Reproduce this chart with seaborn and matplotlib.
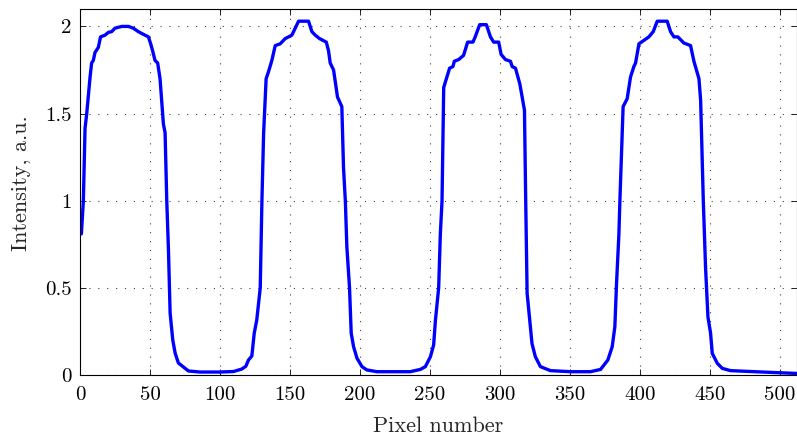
import matplotlib
matplotlib.use("Agg")
import matplotlib.pyplot as plt
import seaborn as sns
import pandas as pd

# Detector line profile: intensity vs pixel index
pixel = [1, 2.4, 3.6, 4.8, 7.2, 8.3, 9.5, 10.7, 13.1, 14.7, 17.9, 20.3, 22.6, 25, 29.8, 34.6,
         38.1, 41.7, 44, 46.5, 48.9, 50.5, 51.9, 53.6, 55.5, 57.2, 59.6, 60.8, 62, 63.2, 63.9,
         64.4, 66.3, 68, 70.3, 73.9, 77.5, 85.8, 100, 109.7, 115.6, 118.5, 120.4, 122.8, 124.5,
         126.3, 128.8,
         130, 131.2, 133, 134.7, 137.1, 139.5, 143, 146.6, 149, 151.4, 153.8, 156.2, 163.3,
         165.7, 168.1, 171.2, 176, 177.6, 178.8, 181.2, 184, 187.1, 188.3, 189.6, 190.7, 192.6,
         193.8, 195.5, 197.9, 201.5, 205, 212.2, 236, 243.2, 246.8, 250.4, 252.7, 254, 256.3,
         257.5, 258.7,
         259.9, 262.2, 264.1, 266.5, 267.5, 270.6, 274.1, 277, 280.8, 282.4, 285.6, 290.4,
         293.3, 295.6, 299.2, 300.9, 304, 307.6, 308.8, 311.2, 314.3, 317.6, 318.5, 319.5,
         320.7, 323, 325.4, 329, 336.2, 350.5, 364.8, 372, 377.2, 380.3, 382.2, 383.4, 385.1,
         385.8,
         388.1, 391, 393.4, 395.8, 397, 399.4, 403, 406.5, 409.6, 412.5, 419.6, 422, 424.4,
         427.2, 431.5, 436.3, 438.7, 442.3, 443.5, 445.4, 447, 448.7, 450.6, 451.8, 453, 455.4,
         459, 464.9, 481.6, 491.1, 499.5, 512]

intensity = [0.81, 1.0, 1.415, 1.50, 1.71, 1.79, 1.805, 1.85, 1.88, 1.94, 1.95, 1.966, 1.97,
             1.99, 2.0, 2.0, 1.99, 1.97, 1.96, 1.95, 1.94, 1.90, 1.86, 1.805, 1.79, 1.70, 1.44,
             1.39, 1.0, 0.72, 0.50, 0.355, 0.20, 0.125, 0.069, 0.046, 0.023, 0.017, 0.017, 0.02,
             0.034, 0.05, 0.086, 0.109, 0.24, 0.315, 0.50,
             1.0, 1.385, 1.70, 1.74, 1.805, 1.89, 1.90, 1.93, 1.94, 1.95, 1.99, 2.03, 2.03, 1.97,
             1.95, 1.93, 1.91, 1.86, 1.79, 1.75, 1.595, 1.54, 1.19, 1.0, 0.735, 0.50, 0.24,
             0.162, 0.097, 0.048, 0.029, 0.019, 0.019, 0.032, 0.048, 0.105, 0.172, 0.315, 0.50,
             0.81, 1.0,
             1.65, 1.71, 1.76, 1.77, 1.80, 1.81, 1.834, 1.91, 1.91, 1.94, 2.01, 2.01, 1.94, 1.91,
             1.91, 1.84, 1.81, 1.80, 1.77, 1.76, 1.67, 1.52, 1.0, 0.47, 0.37, 0.18, 0.105, 0.048,
             0.025, 0.019, 0.019, 0.032, 0.086, 0.162, 0.277, 0.525, 0.81, 1.0,
             1.54, 1.585, 1.71, 1.77, 1.79, 1.90, 1.92, 1.94, 1.97, 2.03, 2.03, 1.97, 1.94, 1.94,
             1.905, 1.89, 1.80, 1.70, 1.575, 1.0, 0.62, 0.334, 0.24, 0.124, 0.105, 0.067, 0.038,
             0.025, 0.019, 0.015, 0.013, 0.009]

x_ticks = [0, 50, 100, 150, 200, 250, 300, 350, 400, 450, 500]
y_ticks = [0, 0.5, 1, 1.5, 2]
y_tick_labels = ["0", "0.5", "1", "1.5", "2"]

sns.set_style("ticks")
plt.rcParams["font.family"] = ["cmr10", "DejaVu Serif"]
plt.rcParams["axes.formatter.use_mathtext"] = True
plt.rcParams["mathtext.fontset"] = "cm"

df = pd.DataFrame({"Pixel number": pixel, "Intensity": intensity})

fig = plt.figure(figsize=(7.97, 4.40), dpi=100)
ax = fig.add_axes([80 / 797, 65 / 440, 716.5 / 797, 366 / 440])

sns.lineplot(data=df, x="Pixel number", y="Intensity", ax=ax, color=(0, 0, 1),
             linewidth=2.4, estimator=None, sort=False)

ax.set_xlim(0, 512)
ax.set_ylim(0, 2.1)
ax.set_xticks(x_ticks)
ax.set_xticklabels([str(t) for t in x_ticks])
ax.set_yticks(y_ticks)
ax.set_yticklabels(y_tick_labels)

ax.grid(True, color="0.25", linestyle=(0, (1, 7)), linewidth=0.8)
ax.tick_params(direction="in", top=True, right=True, length=4, width=0.6,
               labelsize=15, colors="black")
ax.tick_params(axis="x", pad=8)
ax.tick_params(axis="y", pad=6)
for s in ax.spines.values():
    s.set_color("black")
    s.set_linewidth(0.8)

ax.set_xlabel("Pixel number", fontsize=16, labelpad=9)
ax.set_ylabel("Intensity, a.u.", fontsize=16)
ax.yaxis.set_label_coords(-0.069, 0.523)

fig.savefig("out.png", dpi=100)
